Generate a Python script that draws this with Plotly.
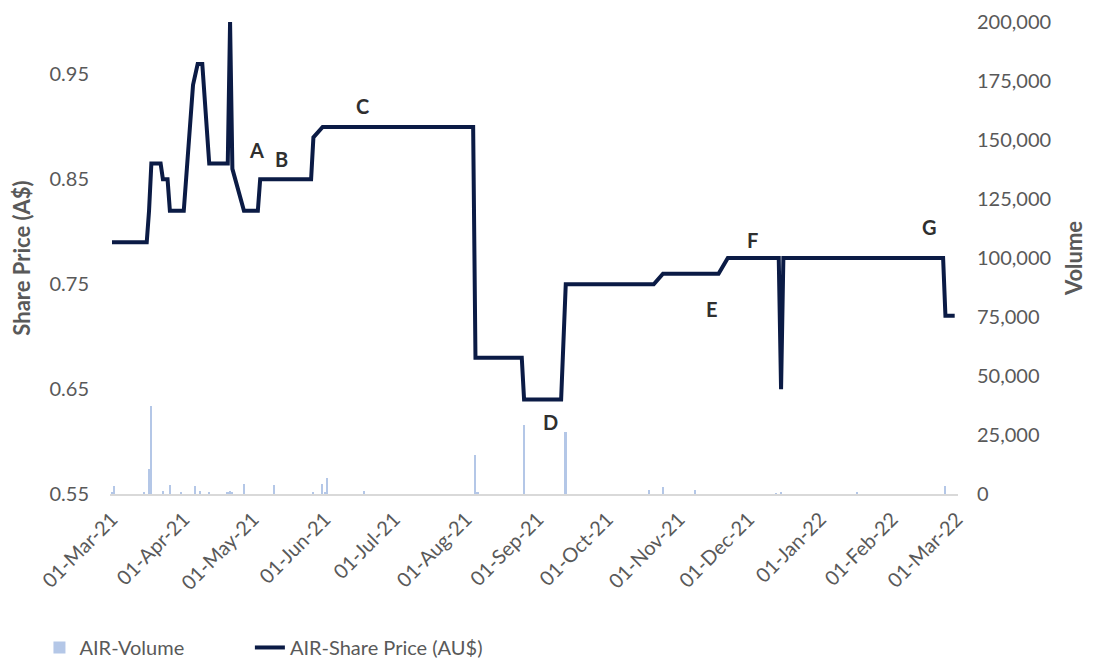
import plotly.graph_objects as go

# AIR share price (AU$) at each change point of the series
price_dates = [
    "2021-03-01", "2021-03-16", "2021-03-17", "2021-03-18", "2021-03-22",
    "2021-03-23", "2021-03-25", "2021-03-26", "2021-04-01", "2021-04-05",
    "2021-04-07", "2021-04-09", "2021-04-12", "2021-04-20", "2021-04-21",
    "2021-04-22", "2021-04-27", "2021-05-03", "2021-05-04", "2021-05-26",
    "2021-05-27", "2021-05-31", "2021-08-04", "2021-08-05", "2021-08-25",
    "2021-08-26", "2021-09-11", "2021-09-13", "2021-10-21", "2021-10-25",
    "2021-11-18", "2021-11-22", "2021-12-14", "2021-12-15", "2021-12-16",
    "2022-02-23", "2022-02-24", "2022-02-28",
]
price_values = [
    0.79, 0.79, 0.82, 0.865, 0.865,
    0.85, 0.85, 0.82, 0.82, 0.94,
    0.96, 0.96, 0.865, 0.865, 1.00,
    0.86, 0.82, 0.82, 0.85, 0.85,
    0.89, 0.90, 0.90, 0.68, 0.68,
    0.64, 0.64, 0.75, 0.75, 0.76,
    0.76, 0.775, 0.775, 0.65, 0.775,
    0.775, 0.72, 0.72,
]

# Daily traded volume
volume_dates = [
    "2021-03-01", "2021-03-02", "2021-03-15", "2021-03-17", "2021-03-18",
    "2021-03-23", "2021-03-26", "2021-03-31", "2021-04-06", "2021-04-08",
    "2021-04-12", "2021-04-20", "2021-04-21", "2021-04-22", "2021-04-27",
    "2021-05-10", "2021-05-27", "2021-05-31", "2021-06-01", "2021-06-02",
    "2021-06-18", "2021-08-05", "2021-08-06", "2021-08-26", "2021-09-13",
    "2021-10-19", "2021-10-25", "2021-11-08", "2021-12-13", "2021-12-15",
    "2022-01-17", "2022-02-24",
]
volume_values = [
    1000, 3400, 500, 10600, 37300,
    1300, 3800, 500, 3400, 1200,
    800, 600, 1300, 1000, 4200,
    3800, 1000, 4200, 800, 6800,
    1300, 16500, 700, 29200, 26300,
    1700, 3000, 1700, 300, 900,
    1000, 3400,
]

# Event markers A–G
event_labels = ["A", "B", "C", "D", "E", "F", "G"]
event_dates = [
    "2021-05-02 05:00", "2021-05-13 00:00", "2021-06-17 00:00",
    "2021-09-06 05:00", "2021-11-15 05:00", "2021-12-02 14:00",
    "2022-02-17 07:00",
]
event_prices = [0.8776, 0.869, 0.9195, 0.6186, 0.7262, 0.7919, 0.8043]

price_ticks = [0.55, 0.65, 0.75, 0.85, 0.95]

FONT = "Lato"
GREY = "#595959"

fig = go.Figure()

fig.add_trace(go.Bar(
    x=volume_dates, y=volume_values, name="AIR-Volume",
    marker=dict(color="#B4C7E7", line=dict(width=0)),
    width=0.7 * 86400000, yaxis="y", legend="legend",
))

fig.add_trace(go.Scatter(
    x=price_dates, y=price_values, name="AIR-Share Price (AU$)",
    mode="lines", line=dict(color="#0B1B45", width=4),
    yaxis="y2", legend="legend2",
))

for lab, d, p in zip(event_labels, event_dates, event_prices):
    fig.add_annotation(
        x=d, y=p, xref="x", yref="y2", text=f"<b>{lab}</b>",
        showarrow=False, font=dict(family=FONT, size=20, color="#2F2F2F"),
    )

legend_style = dict(
    orientation="h", xref="container", yref="container",
    yanchor="middle", xanchor="left", y=0.016,
    font=dict(family=FONT, size=20, color=GREY),
    bgcolor="rgba(0,0,0,0)",
)

fig.update_layout(
    width=1096, height=658,
    margin=dict(l=110, r=138, t=22, b=164, autoexpand=False),
    paper_bgcolor="white", plot_bgcolor="white",
    font=dict(family=FONT, size=20, color=GREY),
    bargap=0,
    showlegend=True,
    legend=dict(legend_style, x=0.036),
    legend2=dict(legend_style, x=0.228),
    xaxis=dict(
        type="date", automargin=False,
        range=["2021-02-28 03:15", "2022-03-01 10:20"],
        tick0="2021-03-01", dtick="M1", tickformat="%d-%b-%y",
        tickangle=-45, showgrid=False, zeroline=False,
        showline=True, linecolor="#D9D9D9", linewidth=1.5,
        ticks="", ticklabelstandoff=4,
        tickfont=dict(family=FONT, size=20, color=GREY),
    ),
    yaxis=dict(
        side="right", range=[0, 200000], dtick=25000, tickformat=",",
        automargin=False,
        showgrid=False, zeroline=False, showline=False, ticks="",
        ticklabelstandoff=18,
        tickfont=dict(family=FONT, size=20, color=GREY),
        title=dict(text="<b>Volume</b>", standoff=16,
                   font=dict(family=FONT, size=22, color=GREY)),
    ),
    yaxis2=dict(
        overlaying="y", side="left", range=[0.55, 1.0],
        automargin=False,
        tickvals=price_ticks, tickformat=".2f",
        showgrid=False, zeroline=False, showline=False, ticks="",
        ticklabelstandoff=20,
        tickfont=dict(family=FONT, size=20, color=GREY),
        title=dict(text="<b>Share Price (A$)</b>", standoff=12,
                   font=dict(family=FONT, size=22, color=GREY)),
    ),
)

fig.write_html("out.html")
